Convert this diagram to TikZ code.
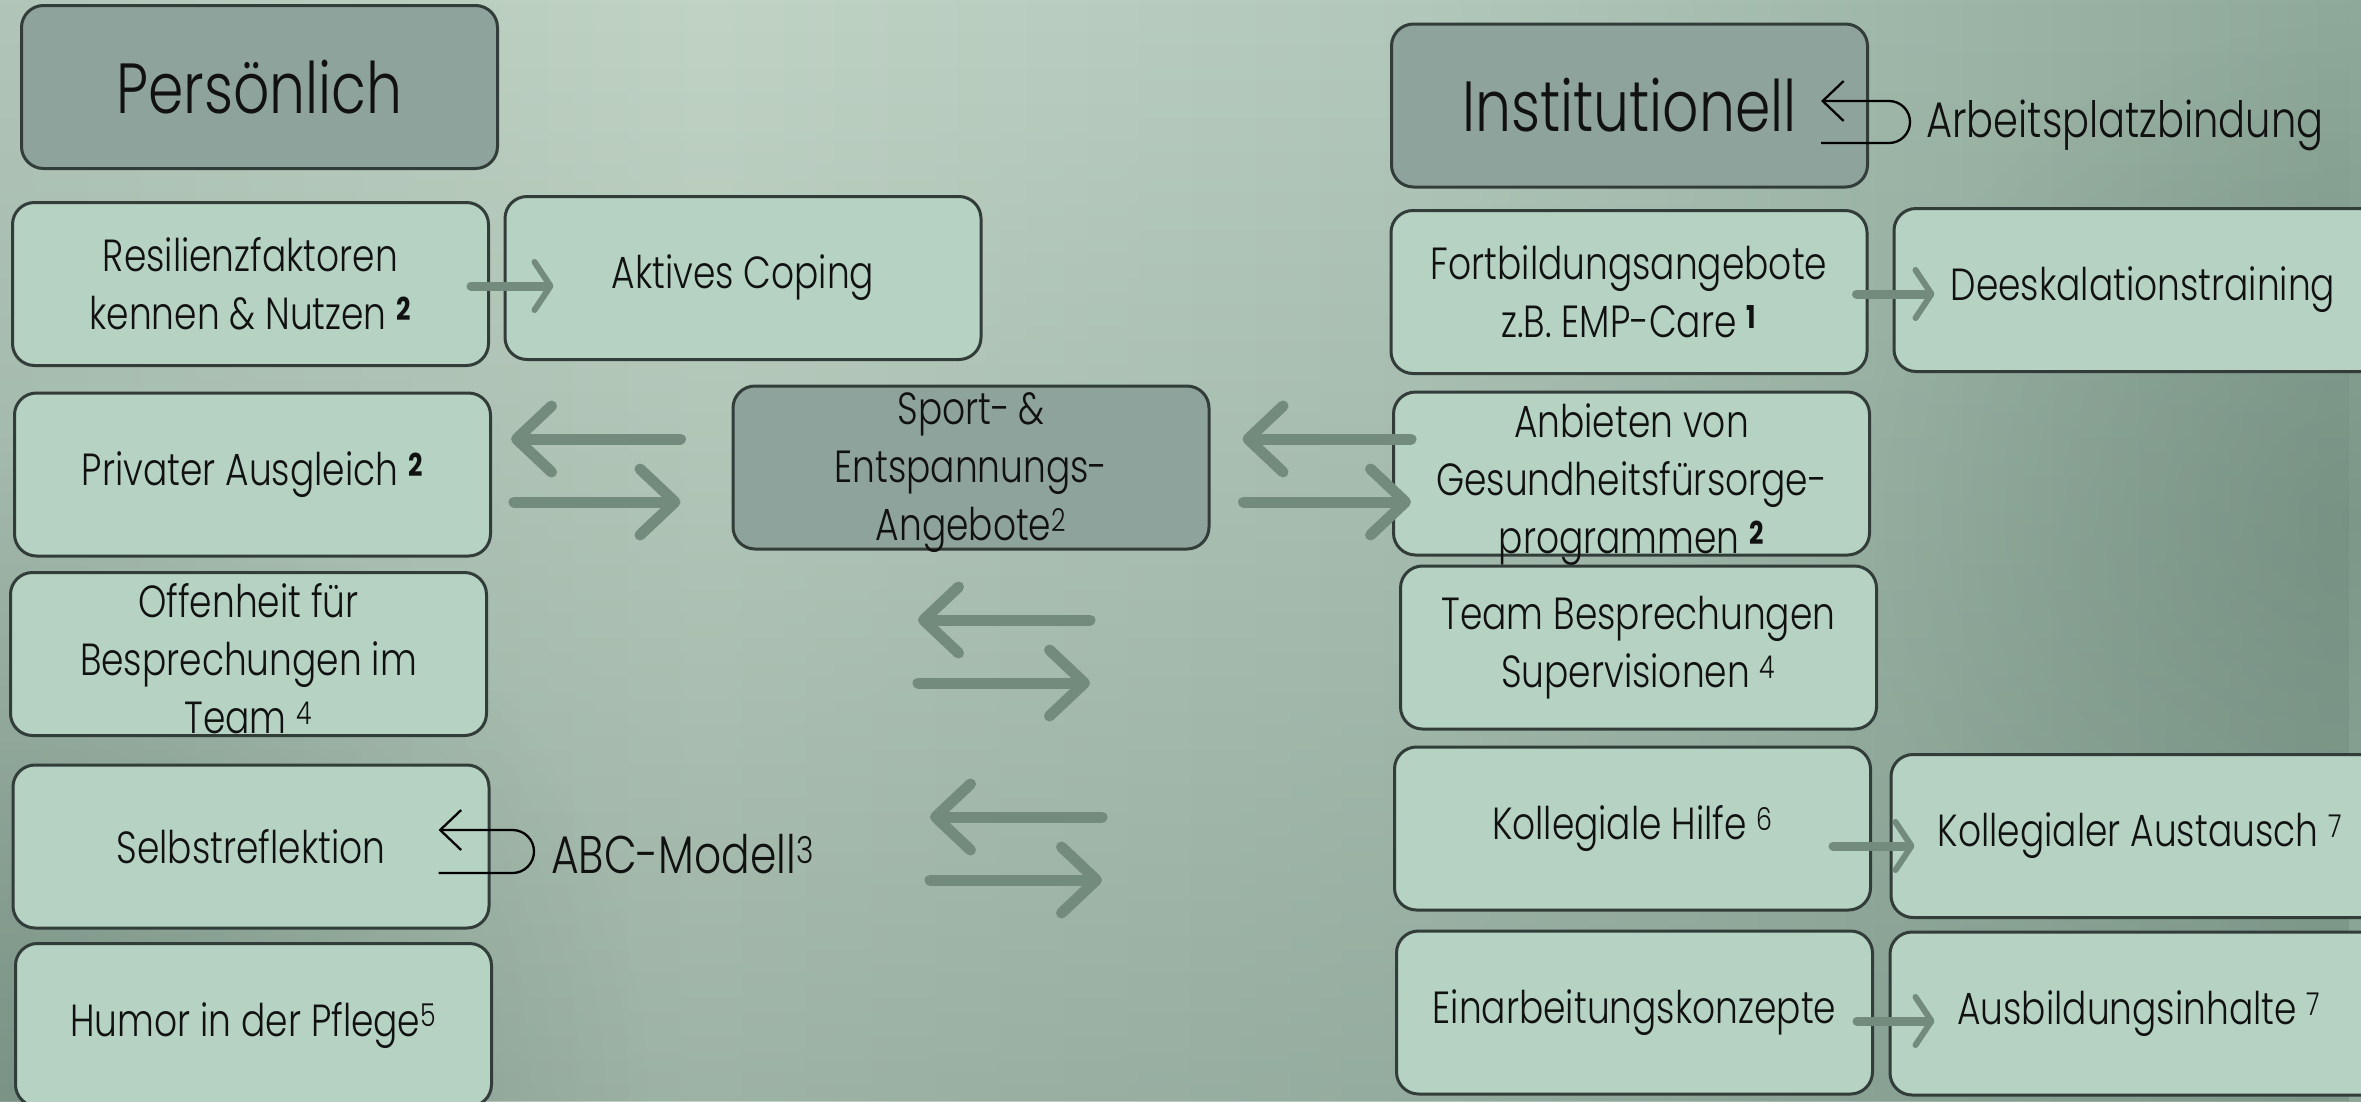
\documentclass[tikz,border=0pt]{standalone}
\usepackage{fontspec}
\IfFontExistsTF{Poppins Light}{%
  \setmainfont{Poppins}[FakeStretch=0.8,UprightFont=* Light,BoldFont=* Bold]}{%
  \setmainfont{Poppins}[FakeStretch=0.8]}
\usetikzlibrary{arrows.meta,calc,fadings}
\definecolor{boxfill}{HTML}{B5D2C3}
\definecolor{titlefill}{HTML}{8FA39D}
\definecolor{boxline}{HTML}{323D3A}
\definecolor{arrowcol}{HTML}{738B7D}
\definecolor{bgA}{HTML}{97B0A2}
\definecolor{bgB}{HTML}{C0D3C5}
\definecolor{bgC}{HTML}{B2C8BB}
\definecolor{bgD}{HTML}{8EA899}
\definecolor{bgE}{HTML}{758F83}
\definecolor{bgF}{HTML}{62807A}
\definecolor{bgDark}{HTML}{5C776A}
\definecolor{txt}{HTML}{111111}
\pgfdeclarehorizontalshading{bgshade}{100bp}{color(0bp)=(bgA); color(40bp)=(bgB); color(55bp)=(bgC); color(75bp)=(bgD); color(92bp)=(bgE); color(100bp)=(bgF)}
\tikzfading[name=cornerfade, inner color=transparent!0, outer color=transparent!100]
\newcommand\boxfont{\fontsize{45}{58}\selectfont}
\newcommand\titlefont{\fontsize{71}{84}\selectfont}
\newcommand\mybsup[1]{\textsuperscript{\bfseries #1}}
\newcommand\mytsup[1]{\textsuperscript{#1}}
\newcommand\lowerlines[2]{\raisebox{-#1}[0pt][0pt]{\begin{tabular}{@{}c@{}}#2\end{tabular}}}
\tikzset{
  box/.style={draw=boxline, line width=3pt, rounded corners=22pt, fill=boxfill,
    minimum width=476pt, minimum height=163pt, align=center, font=\boxfont,
    text=txt, inner sep=0pt},
  titlebox/.style={box, fill=titlefill, font=\titlefont},
  widebox/.style={box, minimum width=498pt},
  bigarrow/.style={draw=arrowcol, line width=11pt, line cap=round,
    -{Straight Barb[length=35pt, width=66pt, line width=11pt, round]}},
  smallarrow/.style={draw=arrowcol, line width=9pt, line cap=round,
    -{Straight Barb[length=16pt, width=48pt, line width=6pt, round]}},
  hookarrow/.style={draw=black, line width=2.3pt,
    -{Straight Barb[length=21pt, width=40pt, line width=2.3pt]}},
  plaintext/.style={font=\boxfont, text=txt, inner sep=0pt, anchor=base west}
}
\begin{document}
\begin{tikzpicture}[x=1pt, y=-1pt]
\useasboundingbox (0,0) rectangle (2361,1101);
\clip (0,0) rectangle (2361,1101);
% background
\shade[shading=bgshade] (0,0) rectangle (2361,1101);
\fill[bgDark, fill opacity=0.35, path fading=north] (0,0) rectangle (2361,1101);
\fill[bgDark, fill opacity=0.45, path fading=cornerfade] (0,1101) circle[radius=650];
\fill[bgDark, fill opacity=0.35, path fading=cornerfade] (2361,520) circle[radius=500];

% left column
\node[titlebox] (pers) at (259.5,87) {Persönlich};
\node[box] (resil) at (250.5,284) {Resilienzfaktoren\\kennen \& Nutzen \mybsup{2}};
\node[box] (aktiv) at (743,278) {Aktives Coping};
\node[box] (privat) at (252.5,474.5) {Privater Ausgleich \mybsup{2}};
\node[titlebox, font=\boxfont] (sport) at (971,467.5) {\lowerlines{10pt}{Sport-\hspace{8pt}\&\\Entspannungs-\\Angebote\mytsup{2}}};
\node[box] (offen) at (248.5,654) {\lowerlines{16pt}{Offenheit für\\Besprechungen im\\Team \mytsup{4}}};
\node[box] (selbst) at (251,846.5) {Selbstreflektion};
\node[box] (humor) at (253.5,1025) {Humor in der Pflege\mytsup{5}};

% right column
\node[titlebox] (inst) at (1629.5,105.5) {Institutionell};
\node[box] (fortb) at (1629,292) {Fortbildungsangebote\\z.B. EMP-Care \mybsup{1}};
\node[widebox] (deesk) at (2143,290) {Deeskalationstraining};
\node[box] (anbiet) at (1631.5,473.5) {\lowerlines{17pt}{Anbieten von\\Gesundheitsfürsorge-\\programmen \mybsup{2}}};
\node[box] (team) at (1638.5,647.5) {Team Besprechungen\\Supervisionen \mytsup{4}};
\node[box] (kolleg) at (1632.5,828.5) {Kollegiale Hilfe \mytsup{6}};
\node[widebox] (austausch) at (2140,836) {Kollegialer Austausch \mytsup{7}};
\node[box] (einarb) at (1634.5,1012.5) {Einarbeitungskonzepte};
\node[widebox] (ausbild) at (2139,1013.5) {Ausbildungsinhalte \mytsup{7}};

% free texts
\node[plaintext, font=\fontsize{53}{60}\selectfont] (abc) at (551,873) {ABC-Modell\mytsup{3}};
\node[plaintext, font=\fontsize{50}{58}\selectfont] (arb) at (1926,137) {Arbeitsplatzbindung};

% small arrows
\draw[smallarrow] ($(resil.east)+(-19,2)$) -- ($(aktiv.west)+(50,8)$);
\draw[smallarrow] ($(fortb.east)+(-12,2)$) -- ($(deesk.west)+(42,4)$);
\draw[smallarrow] ($(kolleg.east)+(-39,17.5)$) -- ($(austausch.west)+(25,10)$);
\draw[smallarrow] ($(einarb.east)+(-17,8.5)$) -- ($(ausbild.west)+(46,7.5)$);

% big arrows
\draw[bigarrow] ($(sport.west)+(-51,-28.5)$) -- ($(privat.east)+(19,-35.5)$);
\draw[bigarrow] ($(privat.east)+(22,27.5)$) -- ($(sport.west)+(-51,34.5)$);
\draw[bigarrow] ($(anbiet.west)+(19,-34.5)$) -- ($(sport.east)+(32,-28.5)$);
\draw[bigarrow] ($(sport.east)+(33,34.5)$) -- ($(anbiet.west)+(19,28.5)$);

\coordinate (m1a) at (1090,620);
\coordinate (m1b) at (918,620);
\coordinate (m2a) at (918,683);
\coordinate (m2b) at (1090,683);
\coordinate (n1a) at (1102,817);
\coordinate (n1b) at (930,817);
\coordinate (n2a) at (930,880);
\coordinate (n2b) at (1102,880);
\draw[bigarrow] (m1a) -- (m1b);
\draw[bigarrow] (m2a) -- (m2b);
\draw[bigarrow] (n1a) -- (n1b);
\draw[bigarrow] (n2a) -- (n2b);

% hook arrows
\coordinate (sA) at ($(selbst.east)+(-52,26.5)$);
\coordinate (sB) at ($(selbst.east)+(-52,-16.5)$);
\draw[hookarrow] (sA) -- ++(74,0) arc[start angle=90, end angle=-90, radius=21.5] -- (sB);
\coordinate (iA) at ($(inst.east)+(-48,37.5)$);
\coordinate (iB) at ($(inst.east)+(-48,-4.5)$);
\draw[hookarrow] (iA) -- ++(68,0) arc[start angle=90, end angle=-90, radius=21] -- (iB);
\end{tikzpicture}
\end{document}
